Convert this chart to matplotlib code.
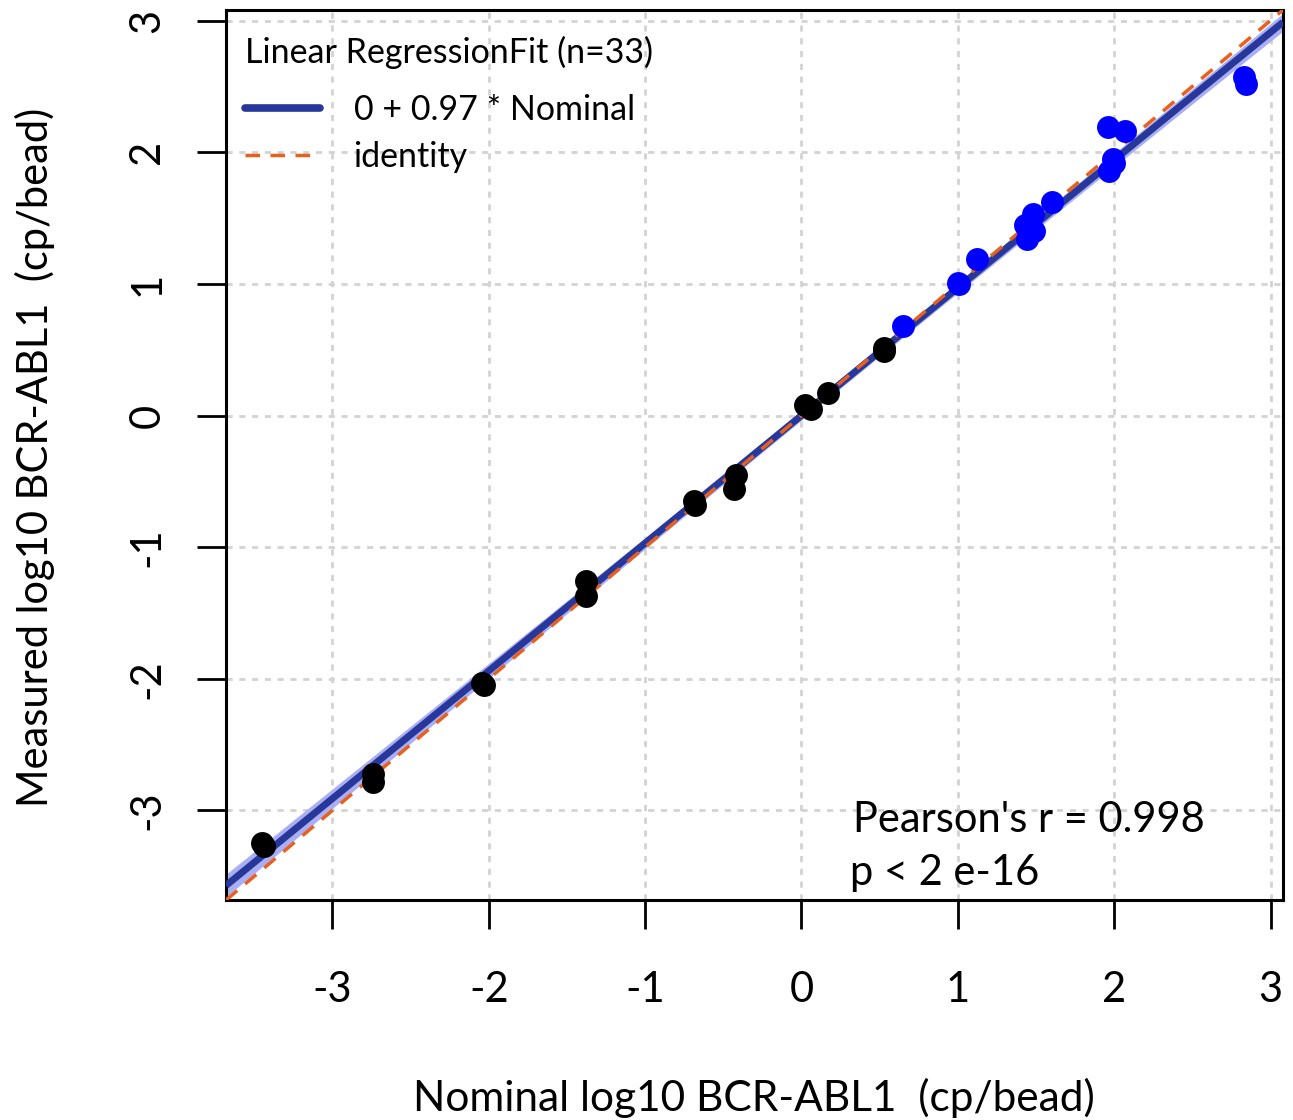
import numpy as np
import matplotlib
matplotlib.use("Agg")
import matplotlib.pyplot as plt
from matplotlib.lines import Line2D

plt.rcParams['font.family'] = ['Lato', 'DejaVu Sans']

# Nominal vs measured log10 BCR-ABL1 (cp/bead)
nominal_low = [-3.45, -3.44, -2.74, -2.74, -2.04, -2.03, -1.375, -1.375,
               -0.69, -0.68, -0.42, -0.43, 0.02, 0.06, 0.17, 0.53, 0.53]
measured_low = [-3.25, -3.27, -2.72, -2.78, -2.03, -2.05, -1.26, -1.37,
                -0.65, -0.68, -0.45, -0.56, 0.08, 0.05, 0.17, 0.49, 0.51]
nominal_high = [0.65, 1.01, 1.00, 1.12, 1.43, 1.44, 1.48, 1.49, 1.60,
                1.96, 2.07, 1.97, 1.99, 2.00, 2.83, 2.84]
measured_high = [0.68, 1.00, 1.01, 1.19, 1.45, 1.34, 1.53, 1.40, 1.62,
                 2.19, 2.16, 1.86, 1.95, 1.92, 2.57, 2.52]

fit_intercept = 0.0
fit_slope = 0.97
pearson_text = "Pearson's r = 0.998"
p_text = "p < 2 e-16"
ticks = [-3, -2, -1, 0, 1, 2, 3]
xlim = (-3.68, 3.08)
ylim = (-3.68, 3.08)

x_all = np.array(nominal_low + nominal_high)
y_all = np.array(measured_low + measured_high)
n = len(x_all)

fig = plt.figure(figsize=(12.93, 11.2), dpi=100)
ax = fig.add_axes([0.1748, 0.1964, 0.9923 - 0.1748, 0.9911 - 0.1964])
ax.set_xlim(*xlim)
ax.set_ylim(*ylim)

# dotted light-gray grid
for t in ticks:
    ax.axvline(t, color='#d3d3d3', lw=2.0, ls=(0, (2.2, 2.4)), zorder=0)
    ax.axhline(t, color='#d3d3d3', lw=2.0, ls=(0, (2.2, 2.4)), zorder=0)

# confidence band of the fitted line
xs = np.linspace(xlim[0], xlim[1], 200)
yfit = fit_intercept + fit_slope * xs
resid = y_all - (fit_intercept + fit_slope * x_all)
s = np.sqrt(np.sum(resid ** 2) / (n - 2))
sxx = np.sum((x_all - x_all.mean()) ** 2)
se = s * np.sqrt(1.0 / n + (xs - x_all.mean()) ** 2 / sxx)
ax.fill_between(xs, yfit - 2.04 * se, yfit + 2.04 * se, color='#a9aef5',
                lw=0, zorder=2)
ax.plot(xs, yfit, color='#27389a', lw=5, zorder=3, solid_capstyle='butt')
ax.plot(xs, xs, color='#e8601c', lw=2.5, ls=(0, (4.2, 3)), zorder=4)

ax.plot(nominal_low, measured_low, 'o', color='black', ms=16.5, mec='none', zorder=5)
ax.plot(nominal_high, measured_high, 'o', color='#0000ff', ms=16.5, mec='none', zorder=5)

for sp in ax.spines.values():
    sp.set_linewidth(2.2)
ax.set_xticks(ticks)
ax.set_yticks(ticks)
ax.set_xticklabels([str(t) for t in ticks])
ax.set_yticklabels([str(t) for t in ticks], rotation=90, va='center')
ax.tick_params(axis='both', length=21, width=2.0, labelsize=30, color='black')
ax.tick_params(axis='x', pad=30)
ax.tick_params(axis='y', pad=22)

fig.text(754 / 1293, 1 - 1098 / 1120, "Nominal log10 BCR-ABL1  (cp/bead)",
         ha='center', va='center', fontsize=30.5)
fig.text(35 / 1293, 1 - 457 / 1120, "Measured log10 BCR-ABL1  (cp/bead)",
         ha='center', va='center', rotation=90, fontsize=30)

handles = [Line2D([], [], color='#27389a', lw=5.5, solid_capstyle='round'),
           Line2D([], [], color='#e8601c', lw=2.5, ls=(0, (4.2, 3)))]
leg = ax.legend(handles, [f"{fit_intercept:g} + {fit_slope:.2f} * Nominal", "identity"],
                title=f"Linear RegressionFit (n={n})", loc='upper left',
                bbox_to_anchor=(0.0, 1.0 - 7 / 890), frameon=False, fontsize=24.5,
                title_fontsize=24.5, handlelength=2.2, handletextpad=1.0,
                labelspacing=0.45, borderaxespad=0.15, borderpad=0.4)
leg._legend_box.align = 'left'
leg._legend_box.sep = 18

ax.text(853 / 1293, 1 - 820 / 1120, pearson_text, transform=fig.transFigure,
        ha='left', va='center', fontsize=30)
ax.text(850 / 1293, 1 - 873 / 1120, p_text, transform=fig.transFigure,
        ha='left', va='center', fontsize=30)

fig.savefig('out.png', dpi=100)
